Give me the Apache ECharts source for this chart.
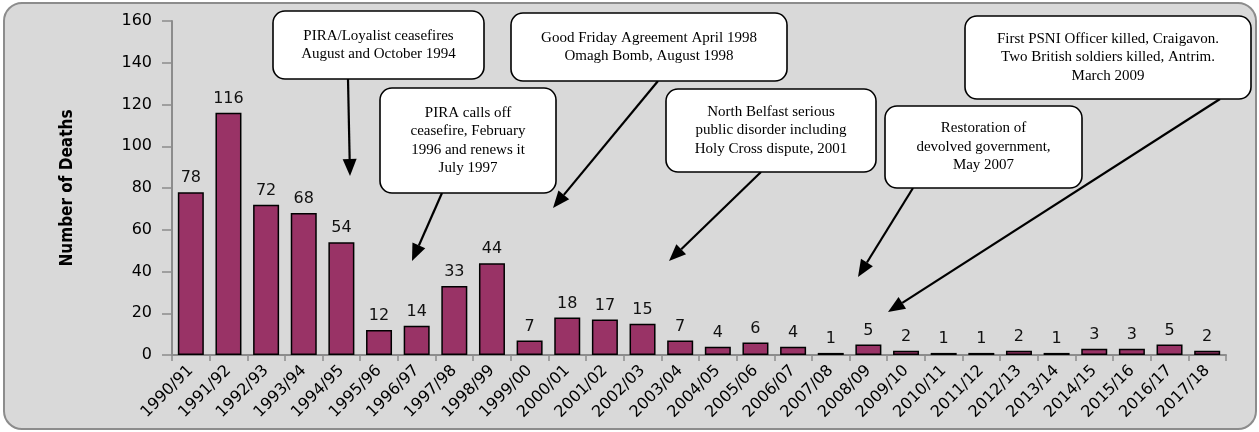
<!DOCTYPE html>
<html>
<head>
<meta charset="utf-8">
<script src="https://cdn.jsdelivr.net/npm/echarts@6/dist/echarts.min.js"></script>
<style>
  html, body { margin: 0; padding: 0; background: #fff; }
  #chart { width: 1259px; height: 432px; }
</style>
</head>
<body>
<div id="chart"></div>
<script>
// financial years and number of deaths
const years = [
  '1990/91', '1991/92', '1992/93', '1993/94', '1994/95', '1995/96', '1996/97',
  '1997/98', '1998/99', '1999/00', '2000/01', '2001/02', '2002/03', '2003/04',
  '2004/05', '2005/06', '2006/07', '2007/08', '2008/09', '2009/10', '2010/11',
  '2011/12', '2012/13', '2013/14', '2014/15', '2015/16', '2016/17', '2017/18'
]
const deaths = [78, 116, 72, 68, 54, 12, 14, 33, 44, 7, 18, 17, 15, 7, 4, 6, 4, 1, 5, 2, 1, 1, 2, 1, 3, 3, 5, 2]

// callout texts
const notes = [
  ['PIRA/Loyalist ceasefires', 'August and October 1994'],
  ['Good Friday Agreement April 1998', 'Omagh Bomb, August 1998'],
  ['PIRA calls off', 'ceasefire, February', '1996 and renews it', 'July 1997'],
  ['North Belfast serious', 'public disorder including', 'Holy Cross dispute, 2001'],
  ['Restoration of', 'devolved government,', 'May 2007'],
  ['First PSNI Officer killed, Craigavon.', 'Two British soldiers killed, Antrim.', 'March 2009']
]

// box layout [x, y, w, h] and arrow [x1, y1, x2, y2] in pixels
const boxes = [
  [273, 11, 211, 68],
  [511, 13, 276, 68],
  [380, 88, 176, 105],
  [666, 89, 210, 83],
  [885, 106, 197, 82],
  [965, 16, 286, 83]
]
const arrows = [
  [348, 79, 350, 176],
  [658, 81, 553, 208],
  [442, 193, 412, 261],
  [761, 172, 669, 261],
  [913, 188, 858, 277],
  [1220, 99, 888, 312]
]

const graphics = []
// grey panel behind the chart
graphics.push({
  type: 'rect',
  z: -10,
  shape: { x: 4, y: 3, width: 1252, height: 426, r: 18 },
  style: { fill: '#d9d9d9', stroke: '#8c8c8c', lineWidth: 2 }
})

arrows.forEach(([x1, y1, x2, y2]) => {
  const dx = x2 - x1
  const dy = y2 - y1
  const len = Math.sqrt(dx * dx + dy * dy)
  const ux = dx / len
  const uy = dy / len
  const headLen = 17
  const headW = 7
  const bx = x2 - ux * headLen
  const by = y2 - uy * headLen
  graphics.push({
    type: 'line',
    z: 50,
    shape: { x1: x1, y1: y1, x2: bx, y2: by },
    style: { stroke: '#000', lineWidth: 2.2 }
  })
  graphics.push({
    type: 'polygon',
    z: 50,
    shape: {
      points: [
        [x2, y2],
        [bx - uy * headW, by + ux * headW],
        [bx + uy * headW, by - ux * headW]
      ]
    },
    style: { fill: '#000' }
  })
})

boxes.forEach(([x, y, w, h], i) => {
  graphics.push({
    type: 'rect',
    z: 60,
    shape: { x: x, y: y, width: w, height: h, r: 12 },
    style: { fill: '#fff', stroke: '#000', lineWidth: 1.6 }
  })
  graphics.push({
    type: 'text',
    z: 61,
    x: x + w / 2,
    y: y + h / 2,
    style: {
      text: notes[i].join('\n'),
      fill: '#000',
      font: '15px "Liberation Serif", "Times New Roman", serif',
      lineHeight: 18.5,
      align: 'center',
      verticalAlign: 'middle'
    }
  })
})

const chart = echarts.init(document.getElementById('chart'))
chart.setOption({
  backgroundColor: '#fff',
  animation: false,
  grid: { left: 172, right: 33, top: 21, bottom: 77 },
  xAxis: {
    type: 'category',
    data: years,
    axisLine: { lineStyle: { color: '#8c8c8c', width: 2 } },
    axisTick: { show: true, length: 6, lineStyle: { color: '#8c8c8c', width: 1.5 } },
    axisLabel: {
      rotate: 45,
      interval: 0,
      margin: 13,
      color: '#000',
      fontSize: 16,
      fontFamily: 'DejaVu Sans'
    }
  },
  yAxis: {
    type: 'value',
    min: 0,
    max: 160,
    interval: 20,
    name: 'Number of Deaths',
    nameLocation: 'middle',
    nameGap: 96,
    nameTextStyle: {
      fontSize: 17,
      fontWeight: 'bold',
      color: '#000',
      fontFamily: '"DejaVu Sans Condensed", "Liberation Sans Narrow", sans-serif'
    },
    axisLine: { show: true, lineStyle: { color: '#8c8c8c', width: 2 } },
    axisTick: { show: true, length: 10, lineStyle: { color: '#8c8c8c', width: 1.5 } },
    splitLine: { show: false },
    axisLabel: {
      margin: 20,
      color: '#000',
      fontSize: 16,
      fontFamily: 'DejaVu Sans'
    }
  },
  series: [
    {
      type: 'bar',
      data: deaths,
      barWidth: 26,
      itemStyle: { color: '#993366', borderColor: '#000', borderWidth: 1.5 },
      label: {
        show: true,
        position: 'top',
        distance: 6,
        color: '#111',
        fontSize: 16,
        fontFamily: 'DejaVu Sans'
      }
    }
  ],
  graphic: graphics
})
</script>
</body>
</html>
